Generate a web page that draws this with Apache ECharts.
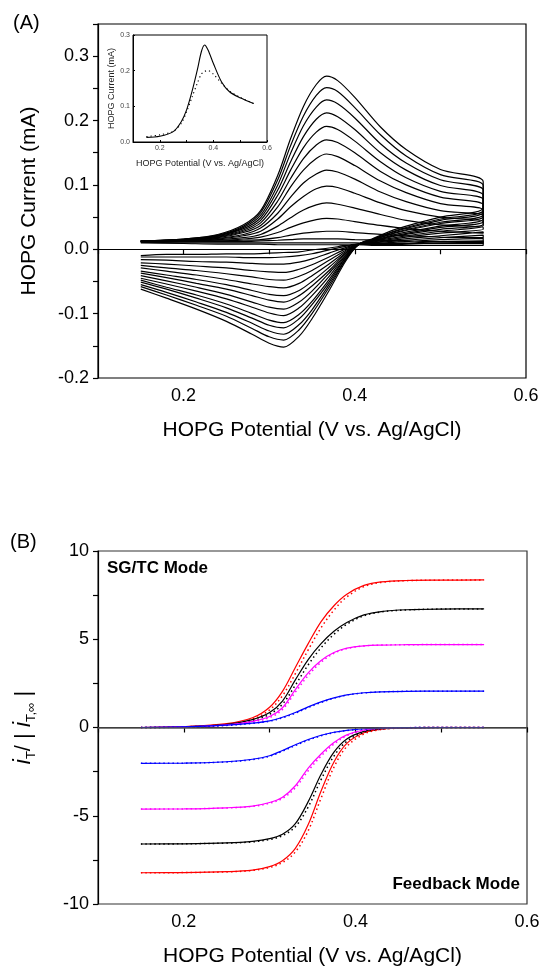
<!DOCTYPE html>
<html>
<head>
<meta charset="utf-8">
<script src="https://cdn.jsdelivr.net/npm/echarts@6/dist/echarts.min.js"></script>
<style>
html, body { margin: 0; padding: 0; background: #fff; }
#chart { width: 543px; height: 968px; }
</style>
</head>
<body>
<div id="chart"></div>
<script>
// (A) cyclic voltammograms, potential in V, current in mA
const cvForwardX = [0.15, 0.20, 0.24, 0.27, 0.29, 0.31, 0.325, 0.34, 0.355, 0.367, 0.38, 0.40, 0.43, 0.46, 0.50, 0.55]
const cvForward = [
  [0.013, 0.016, 0.023, 0.038, 0.060, 0.115, 0.172, 0.222, 0.256, 0.269, 0.262, 0.236, 0.190, 0.155, 0.124, 0.105],
  [0.013, 0.016, 0.022, 0.036, 0.057, 0.108, 0.161, 0.207, 0.239, 0.251, 0.245, 0.220, 0.178, 0.145, 0.116, 0.099],
  [0.013, 0.015, 0.021, 0.034, 0.053, 0.100, 0.149, 0.192, 0.221, 0.232, 0.226, 0.204, 0.164, 0.134, 0.108, 0.092],
  [0.013, 0.015, 0.021, 0.032, 0.049, 0.092, 0.136, 0.175, 0.202, 0.212, 0.206, 0.186, 0.150, 0.123, 0.099, 0.084],
  [0.013, 0.015, 0.020, 0.030, 0.045, 0.084, 0.123, 0.158, 0.182, 0.191, 0.186, 0.168, 0.136, 0.111, 0.090, 0.077],
  [0.013, 0.014, 0.019, 0.028, 0.041, 0.075, 0.110, 0.141, 0.162, 0.170, 0.166, 0.150, 0.121, 0.100, 0.081, 0.069],
  [0.013, 0.014, 0.018, 0.026, 0.037, 0.066, 0.097, 0.123, 0.141, 0.148, 0.144, 0.130, 0.106, 0.088, 0.071, 0.061],
  [0.012, 0.014, 0.017, 0.023, 0.033, 0.056, 0.081, 0.103, 0.117, 0.123, 0.120, 0.109, 0.089, 0.074, 0.060, 0.052],
  [0.012, 0.013, 0.016, 0.021, 0.028, 0.047, 0.066, 0.082, 0.094, 0.098, 0.096, 0.087, 0.072, 0.060, 0.050, 0.043],
  [0.012, 0.013, 0.015, 0.018, 0.023, 0.036, 0.049, 0.061, 0.069, 0.072, 0.070, 0.064, 0.054, 0.045, 0.038, 0.034],
  [0.012, 0.013, 0.014, 0.016, 0.019, 0.026, 0.034, 0.041, 0.046, 0.048, 0.047, 0.043, 0.037, 0.032, 0.028, 0.025],
  [0.012, 0.012, 0.013, 0.014, 0.015, 0.018, 0.022, 0.025, 0.027, 0.028, 0.028, 0.026, 0.023, 0.021, 0.019, 0.018],
  [0.012, 0.012, 0.012, 0.012, 0.013, 0.014, 0.015, 0.016, 0.016, 0.016, 0.016, 0.015, 0.014, 0.013, 0.012, 0.012],
  [0.011, 0.010, 0.010, 0.010, 0.010, 0.010, 0.010, 0.010, 0.010, 0.010, 0.010, 0.010, 0.009, 0.009, 0.009, 0.009],
  [0.010, 0.009, 0.008, 0.008, 0.008, 0.007, 0.007, 0.007, 0.007, 0.007, 0.007, 0.007, 0.006, 0.006, 0.006, 0.006],
]
const cvReverseX = [0.55, 0.50, 0.45, 0.42, 0.405, 0.39, 0.37, 0.35, 0.335, 0.317, 0.30, 0.28, 0.25, 0.215, 0.18, 0.15]
const cvReverse = [
  [0.065, 0.050, 0.032, 0.016, 0.008, -0.017, -0.064, -0.108, -0.135, -0.152, -0.146, -0.132, -0.112, -0.093, -0.076, -0.062],
  [0.061, 0.047, 0.030, 0.015, 0.008, -0.015, -0.059, -0.100, -0.125, -0.141, -0.136, -0.123, -0.104, -0.087, -0.071, -0.058],
  [0.058, 0.045, 0.029, 0.015, 0.008, -0.014, -0.055, -0.094, -0.117, -0.132, -0.127, -0.115, -0.098, -0.082, -0.067, -0.055],
  [0.054, 0.042, 0.027, 0.014, 0.008, -0.012, -0.051, -0.086, -0.108, -0.122, -0.118, -0.107, -0.091, -0.076, -0.062, -0.051],
  [0.051, 0.040, 0.026, 0.014, 0.008, -0.011, -0.047, -0.081, -0.101, -0.114, -0.110, -0.100, -0.085, -0.071, -0.059, -0.048],
  [0.047, 0.036, 0.024, 0.013, 0.008, -0.009, -0.042, -0.072, -0.091, -0.103, -0.099, -0.090, -0.077, -0.065, -0.054, -0.045],
  [0.043, 0.034, 0.022, 0.013, 0.008, -0.008, -0.037, -0.065, -0.082, -0.093, -0.090, -0.082, -0.070, -0.059, -0.049, -0.041],
  [0.039, 0.031, 0.021, 0.012, 0.008, -0.006, -0.033, -0.057, -0.072, -0.082, -0.079, -0.072, -0.062, -0.053, -0.044, -0.037],
  [0.036, 0.028, 0.019, 0.012, 0.008, -0.005, -0.028, -0.050, -0.064, -0.072, -0.070, -0.064, -0.055, -0.047, -0.040, -0.034],
  [0.031, 0.025, 0.017, 0.011, 0.008, -0.003, -0.023, -0.041, -0.053, -0.060, -0.058, -0.054, -0.047, -0.040, -0.034, -0.029],
  [0.027, 0.021, 0.015, 0.010, 0.008, -0.001, -0.017, -0.033, -0.042, -0.048, -0.047, -0.043, -0.038, -0.033, -0.029, -0.025],
  [0.022, 0.018, 0.013, 0.010, 0.008, 0.001, -0.012, -0.024, -0.031, -0.036, -0.035, -0.033, -0.029, -0.026, -0.023, -0.021],
  [0.017, 0.015, 0.011, 0.009, 0.008, 0.003, -0.006, -0.015, -0.020, -0.023, -0.023, -0.022, -0.020, -0.019, -0.017, -0.016],
  [0.013, 0.012, 0.009, 0.009, 0.008, 0.005, -0.001, -0.007, -0.010, -0.012, -0.013, -0.013, -0.012, -0.012, -0.012, -0.012],
  [0.011, 0.010, 0.008, 0.008, 0.008, 0.006, 0.002, -0.001, -0.004, -0.005, -0.006, -0.007, -0.007, -0.008, -0.008, -0.010],
]

// inset: forward scans, solid and dotted
const insetX = [0.15, 0.20, 0.25, 0.28, 0.30, 0.32, 0.34, 0.355, 0.367, 0.38, 0.40, 0.43, 0.46, 0.50, 0.55]
const insetSolid = [0.013, 0.016, 0.029, 0.057, 0.090, 0.141, 0.202, 0.253, 0.272, 0.258, 0.220, 0.169, 0.141, 0.124, 0.108]
const insetDotted = [0.015, 0.020, 0.030, 0.052, 0.085, 0.125, 0.165, 0.190, 0.198, 0.200, 0.190, 0.165, 0.143, 0.125, 0.108]

// (B) normalized tip current, SG/TC (sg) and feedback (fb)
const fitX = [0.15, 0.20, 0.25, 0.28, 0.30, 0.315, 0.33, 0.345, 0.36, 0.375, 0.39, 0.41, 0.43, 0.46, 0.50, 0.55]
const sgRed = [0, 0.05, 0.22, 0.55, 1.15, 2.05, 3.4, 4.75, 6.0, 6.9, 7.55, 8.05, 8.25, 8.33, 8.35, 8.36]
const sgRedDot = [0, 0.04, 0.18, 0.47, 1.0, 1.8, 3.05, 4.4, 5.65, 6.65, 7.4, 7.98, 8.22, 8.32, 8.35, 8.36]
const sgBlack = [0, 0.04, 0.18, 0.45, 0.85, 1.5, 2.7, 3.85, 4.75, 5.45, 5.95, 6.38, 6.57, 6.67, 6.71, 6.72]
const sgBlackDot = [0, 0.03, 0.15, 0.39, 0.75, 1.32, 2.4, 3.55, 4.52, 5.28, 5.85, 6.33, 6.55, 6.66, 6.71, 6.72]
const sgMagenta = [0, 0.04, 0.15, 0.35, 0.62, 1.12, 2.15, 3.1, 3.8, 4.25, 4.5, 4.63, 4.67, 4.69, 4.70, 4.70]
const sgMagentaDot = [0, 0.03, 0.13, 0.31, 0.56, 1.02, 2.0, 2.95, 3.7, 4.2, 4.47, 4.62, 4.67, 4.69, 4.70, 4.70]
const sgBlue = [0, 0.03, 0.13, 0.25, 0.38, 0.58, 0.85, 1.17, 1.45, 1.68, 1.85, 1.97, 2.02, 2.05, 2.06, 2.06]
const sgBlueDot = [0, 0.02, 0.12, 0.23, 0.36, 0.55, 0.81, 1.13, 1.42, 1.66, 1.84, 1.96, 2.02, 2.05, 2.06, 2.06]
const fbRed = [-8.23, -8.22, -8.17, -8.08, -7.88, -7.55, -6.85, -5.5, -3.6, -1.95, -0.9, -0.3, -0.09, -0.02, 0, 0]
const fbRedDot = [-8.23, -8.22, -8.18, -8.1, -7.93, -7.65, -7.05, -5.85, -4.0, -2.25, -1.08, -0.37, -0.11, -0.03, 0, 0]
const fbBlack = [-6.6, -6.59, -6.54, -6.45, -6.3, -6.05, -5.45, -4.2, -2.65, -1.4, -0.65, -0.22, -0.07, -0.02, 0, 0]
const fbBlackDot = [-6.6, -6.59, -6.55, -6.48, -6.35, -6.13, -5.62, -4.5, -2.95, -1.62, -0.78, -0.27, -0.09, -0.02, 0, 0]
const fbMagenta = [-4.62, -4.61, -4.55, -4.45, -4.25, -3.95, -3.3, -2.3, -1.5, -0.85, -0.42, -0.14, -0.05, -0.01, 0, 0]
const fbMagentaDot = [-4.62, -4.61, -4.56, -4.47, -4.29, -4.02, -3.42, -2.45, -1.62, -0.94, -0.47, -0.16, -0.06, -0.01, 0, 0]
const fbBlue = [-2.03, -2.02, -1.94, -1.8, -1.6, -1.3, -0.98, -0.68, -0.44, -0.27, -0.16, -0.07, -0.03, -0.01, 0, 0]
const fbBlueDot = [-2.03, -2.02, -1.95, -1.82, -1.63, -1.34, -1.02, -0.72, -0.47, -0.29, -0.17, -0.08, -0.03, -0.01, 0, 0]

const FONT = 'Liberation Sans, Arial, sans-serif'
const RED = '#FF0000'
const MAGENTA = '#FF00FF'
const BLUE = '#0000FF'

const pairs = (xs, ys) => xs.map((x, i) => [x, ys[i]])
const everyOther = (v) => (Math.round(v * 10) % 2 === 0 ? v.toFixed(1) : '')

// main x axes (A and B share the look)
const xAxisBase = (gridIndex) => ({
  type: 'value',
  gridIndex,
  min: 0.1,
  max: 0.6,
  interval: 0.1,
  axisLine: { lineStyle: { color: '#000', width: 1.2 } },
  axisTick: { inside: false, length: 5, lineStyle: { color: '#000', width: 1.2 } },
  axisLabel: { formatter: everyOther, fontSize: 18, color: '#000', fontFamily: FONT, margin: 9, showMaxLabel: true },
  splitLine: { show: false },
  name: 'HOPG Potential (V vs. Ag/AgCl)',
  nameLocation: 'middle',
  nameGap: 42,
  nameTruncate: { maxWidth: 600 },
  nameTextStyle: { fontSize: 21, color: '#000', fontFamily: FONT },
})

const chart = echarts.init(document.getElementById('chart'))

const series = []

// panel A curves: forward scan then reverse scan
cvForward.forEach((fwd, k) => {
  series.push({
    type: 'line',
    xAxisIndex: 0,
    yAxisIndex: 0,
    showSymbol: false,
    smooth: 0.3,
    lineStyle: { color: '#000', width: 1.2 },
    data: pairs(cvForwardX, fwd).concat(pairs(cvReverseX, cvReverse[k])),
    markLine: k === 0 ? {
      silent: true,
      symbol: 'none',
      label: { show: false },
      lineStyle: { color: '#000', width: 1.2, type: 'solid' },
      data: [{ yAxis: 0 }],
    } : undefined,
  })
})

// inset
series.push({
  type: 'line', xAxisIndex: 1, yAxisIndex: 1, showSymbol: false, smooth: 0.3,
  lineStyle: { color: '#000', width: 1.1 },
  data: pairs(insetX, insetSolid),
})
series.push({
  type: 'line', xAxisIndex: 1, yAxisIndex: 1, showSymbol: false, smooth: 0.3,
  lineStyle: { color: '#000', width: 1.1, type: [1.2, 3] },
  data: pairs(insetX, insetDotted),
})

// panel B curves
const bLines = [
  [sgRed, RED, false], [sgRedDot, RED, true],
  [sgBlack, '#000', false], [sgBlackDot, '#000', true],
  [sgMagenta, MAGENTA, false], [sgMagentaDot, MAGENTA, true],
  [sgBlue, BLUE, false], [sgBlueDot, BLUE, true],
  [fbRed, RED, false], [fbRedDot, RED, true],
  [fbBlack, '#000', false], [fbBlackDot, '#000', true],
  [fbMagenta, MAGENTA, false], [fbMagentaDot, MAGENTA, true],
  [fbBlue, BLUE, false], [fbBlueDot, BLUE, true],
]
bLines.forEach(([ys, color, dotted], k) => {
  series.push({
    type: 'line',
    xAxisIndex: 2,
    yAxisIndex: 2,
    showSymbol: false,
    smooth: 0.35,
    lineStyle: { color, width: dotted ? 1.5 : 1.2, type: dotted ? [1.5, 3] : 'solid' },
    data: pairs(fitX, ys),
    markLine: k === 0 ? {
      silent: true,
      symbol: 'none',
      label: { show: false },
      lineStyle: { color: '#555', width: 1.5, type: 'solid' },
      data: [{ yAxis: 0 }],
    } : undefined,
  })
})

chart.setOption({
  animation: false,
  backgroundColor: '#fff',
  grid: [
    { left: 98, top: 24, width: 428, height: 354, show: true, borderColor: '#000', borderWidth: 1.2, backgroundColor: 'transparent' },
    { left: 133, top: 35, width: 134, height: 107, show: true, borderColor: '#000', borderWidth: 1, backgroundColor: '#fff' },
    { left: 98, top: 551, width: 429, height: 353, show: true, borderColor: '#333', borderWidth: 1.2, backgroundColor: 'transparent' },
  ],
  xAxis: [
    xAxisBase(0),
    {
      type: 'value',
      gridIndex: 1,
      min: 0.1,
      max: 0.6,
      interval: 0.1,
      axisLine: { lineStyle: { color: '#000', width: 1 } },
      axisTick: { inside: true, length: 2, lineStyle: { color: '#000' } },
      axisLabel: { formatter: everyOther, fontSize: 7, color: '#444', fontFamily: FONT, margin: 3, showMaxLabel: true },
      splitLine: { show: false },
      name: 'HOPG Potential (V vs. Ag/AgCl)',
      nameLocation: 'middle',
      nameGap: 17,
      nameTruncate: { maxWidth: 300 },
      nameTextStyle: { fontSize: 9, color: '#222', fontFamily: FONT },
    },
    xAxisBase(2),
  ],
  yAxis: [
    {
      type: 'value',
      gridIndex: 0,
      min: -0.2,
      max: 0.35,
      interval: 0.05,
      axisLine: { lineStyle: { color: '#000', width: 1.2 } },
      axisTick: { inside: false, length: 5, lineStyle: { color: '#000', width: 1.2 } },
      axisLabel: {
        formatter: (v) => (Math.abs(v * 10 - Math.round(v * 10)) < 1e-6 ? v.toFixed(1) : ''),
        fontSize: 18, color: '#000', fontFamily: FONT, margin: 9,
      },
      splitLine: { show: false },
      name: 'HOPG Current (mA)',
      nameLocation: 'middle',
      nameGap: 58,
      nameTruncate: { maxWidth: 600 },
      nameTextStyle: { fontSize: 21, color: '#000', fontFamily: FONT },
    },
    {
      type: 'value',
      gridIndex: 1,
      min: 0,
      max: 0.3,
      interval: 0.1,
      axisLine: { lineStyle: { color: '#000', width: 1 } },
      axisTick: { inside: true, length: 2, lineStyle: { color: '#000' } },
      axisLabel: { formatter: (v) => v.toFixed(1), fontSize: 7, color: '#444', fontFamily: FONT, margin: 3 },
      splitLine: { show: false },
      name: 'HOPG Current (mA)',
      nameLocation: 'middle',
      nameGap: 16,
      nameTruncate: { maxWidth: 300 },
      nameTextStyle: { fontSize: 9, color: '#222', fontFamily: FONT },
    },
    {
      type: 'value',
      gridIndex: 2,
      min: -10,
      max: 10,
      interval: 2.5,
      axisLine: { lineStyle: { color: '#000', width: 1.2 } },
      axisTick: { inside: false, length: 5, lineStyle: { color: '#000', width: 1.2 } },
      axisLabel: {
        formatter: (v) => (v % 5 === 0 ? String(v) : ''),
        fontSize: 18, color: '#000', fontFamily: FONT, margin: 9,
      },
      splitLine: { show: false },
      name: '{i|i}{s|T}{n|/ | }{i|i}{s|T,∞}{n| |}',
      nameLocation: 'middle',
      nameGap: 60,
      nameTruncate: { maxWidth: 600 },
      nameTextStyle: {
        fontSize: 22, color: '#000', fontFamily: FONT,
        rich: {
          i: { fontSize: 23, fontStyle: 'italic', fontFamily: FONT, lineHeight: 28, verticalAlign: 'middle' },
          s: { fontSize: 13, fontFamily: FONT, lineHeight: 28, verticalAlign: 'bottom' },
          n: { fontSize: 22, fontFamily: FONT, lineHeight: 28, verticalAlign: 'middle' },
        },
      },
    },
  ],
  graphic: [
    { type: 'text', left: 13, top: 13, style: { text: '(A)', fontSize: 20, fontFamily: FONT, fill: '#000' } },
    { type: 'text', left: 10, top: 532, style: { text: '(B)', fontSize: 20, fontFamily: FONT, fill: '#000' } },
    { type: 'text', left: 107, top: 560, style: { text: 'SG/TC Mode', fontSize: 17, fontWeight: 'bold', fontFamily: FONT, fill: '#000' } },
    { type: 'text', right: 23, top: 876, style: { text: 'Feedback Mode', fontSize: 17, fontWeight: 'bold', fontFamily: FONT, fill: '#000' } },
  ],
  series,
})
</script>
</body>
</html>
